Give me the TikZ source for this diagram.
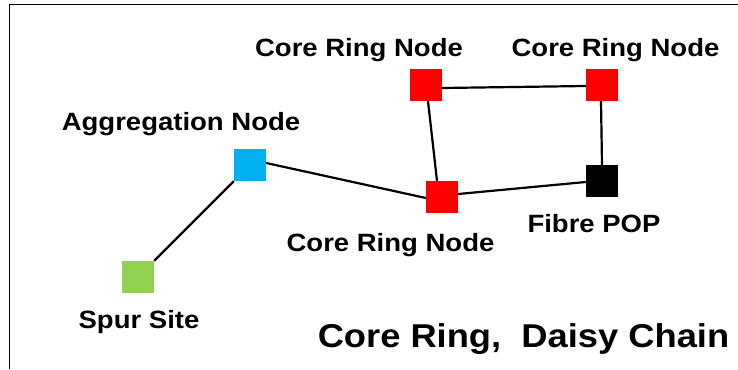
\documentclass[tikz,border=0pt]{standalone}
\usepackage{fontspec}
\newfontfamily\labfont[FakeStretch=1.1]{Liberation Sans Bold}
\usetikzlibrary{calc}
\definecolor{nodered}{HTML}{FF0000}
\definecolor{nodeblue}{HTML}{00B0F0}
\definecolor{nodegreen}{HTML}{92D050}
\tikzset{
  sq/.style={rectangle, minimum size=32pt, inner sep=0pt, draw=none, fill=#1},
  lbl/.style={font=\labfont\fontsize{25}{30}\selectfont, anchor=base, inner sep=0pt},
  ttl/.style={font=\labfont\fontsize{33}{38}\selectfont, anchor=base, inner sep=0pt},
  link/.style={line width=2.2pt, black},
  frame/.style={line width=1.8pt, black}
}
\begin{document}
\begin{tikzpicture}[x=1pt,y=-1pt]
\useasboundingbox (0,0) rectangle (738,369);
\fill[white] (0,0) rectangle (738,369);
% frame
\coordinate (fl) at (9.5,369);
\coordinate (ftl) at (9.5,4.5);
\coordinate (fr) at (738,4.5);
\draw[frame] (fl) -- (ftl) -- (fr);
% nodes
\node[sq=nodered] (tl) at (426,85) {};
\node[sq=nodered] (tr) at (602,85) {};
\node[sq=nodeblue] (agg) at (250,165) {};
\node[sq=nodered] (cb) at (442,197) {};
\node[sq=black] (pop) at (602,181) {};
\node[sq=nodegreen] (spur) at (138,277) {};
% labels
\node[lbl] (ltl) at (359,56.7) {Core Ring Node};
\node[lbl] (ltr) at (615.5,56.7) {Core Ring Node};
\node[lbl] (lagg) at (181,130) {Aggregation Node};
\node[lbl] (lcb) at (390.5,251.7) {Core Ring Node};
\node[lbl] (lpop) at (594,232) {Fibre POP};
\node[lbl] (lspur) at (139,328) {Spur Site};
\node[ttl] (title) at (523.5,347) {Core Ring,\ \ Daisy Chain};
% links
\draw[link] (spur.north east) -- (agg.south west);
\draw[link] ($(agg.east)+(0,-2)$) -- ($(cb.west)+(0,1)$);
\draw[link] ($(cb.east)+(0,-3)$) -- ($(pop.west)+(0,1)$);
\draw[link] ($(tl.east)+(0,3)$) -- ($(tr.west)+(0,1)$);
\draw[link] ($(tl.south)+(2,0)$) -- ($(cb.north)+(-5,0)$);
\draw[link] ($(tr.south)+(-1,0)$) -- (pop.north);
\end{tikzpicture}
\end{document}
